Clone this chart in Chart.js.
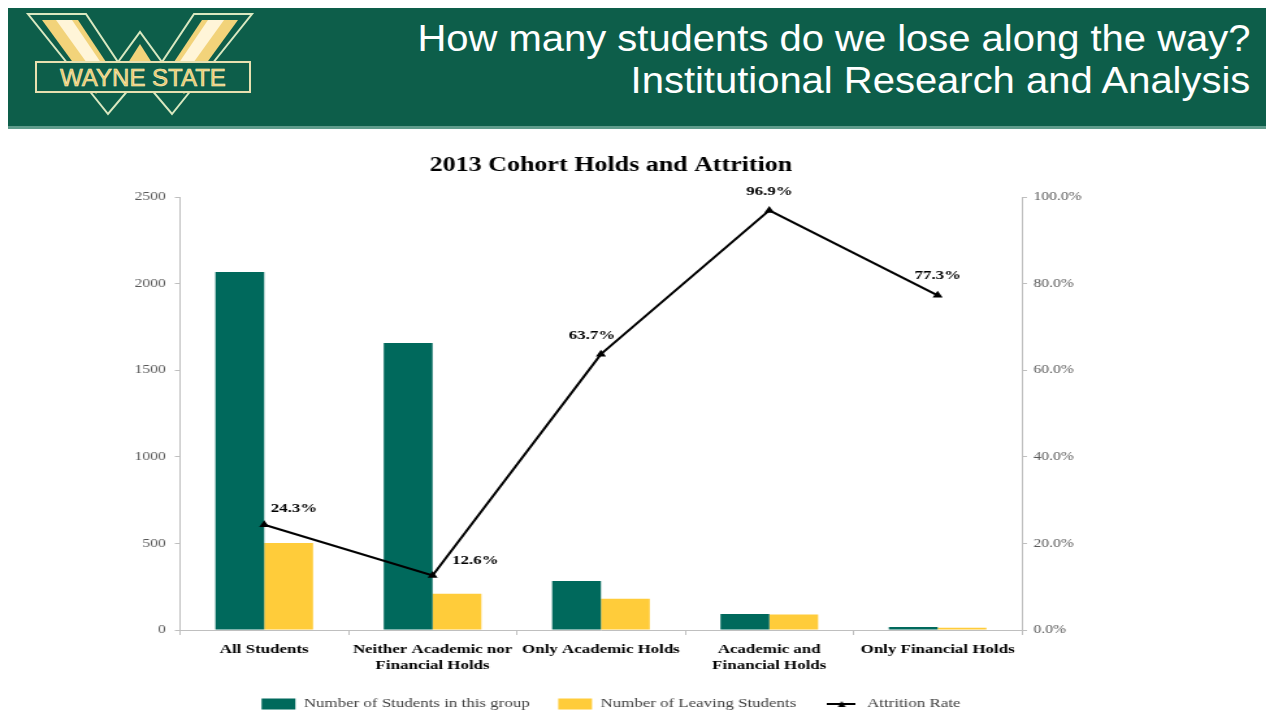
<!DOCTYPE html>
<html>
<head>
<meta charset="utf-8">
<script src="https://cdn.jsdelivr.net/npm/chart.js@4.4.1/dist/chart.umd.min.js"></script>
<style>
  body { margin: 0; width: 1274px; height: 713px; background: #fff; overflow: hidden; position: relative; font-family: "Liberation Sans", Arial, sans-serif; }
  #header { position: absolute; left: 8px; top: 8px; width: 1258px; height: 118px; background: #0d5e4a; border-bottom: 3px solid #5f9c8c; }
  #header .t { position: absolute; right: 16px; color: #fff; font-size: 36px; white-space: nowrap; transform: scaleX(1.11); transform-origin: right center; }
  #logo { position: absolute; left: 14px; top: 2px; }
  /* the source picture is stretched sideways, so the chart is too */
  #wrap { position: absolute; left: 0; top: 140px; width: 980px; height: 573px; transform: scaleX(1.3); transform-origin: left top; }
</style>
</head>
<body>
<div id="header">
  <svg id="logo" width="240" height="108" viewBox="0 0 240 108">
    <polygon points="6,4 64,4 96,52 118,22 140,52 172,4 230,4 150,104 118,66 86,104" fill="#0d5e4a" stroke="#d9e8c0" stroke-width="2"/>
    <polygon points="20,10 56,10 92,64 74,84" fill="#f2d37a"/>
    <polygon points="216,10 180,10 144,64 162,84" fill="#f2d37a"/>
    <polygon points="34,10 50,10 88,66 80,74" fill="#fff5d8"/>
    <polygon points="202,10 186,10 148,66 156,74" fill="#fff5d8"/>
    <polygon points="118,34 132,56 118,74 104,56" fill="#f2d37a"/>
    <rect x="14" y="52" width="214" height="30" fill="#0d5e4a" stroke="#e8e0b0" stroke-width="2"/>
    <text x="121" y="76" text-anchor="middle" font-family="Liberation Sans, Arial" font-size="24" fill="#e9c766" stroke="#fff3c8" stroke-width="0.6">WAYNE STATE</text>
  </svg>
  <div class="t" style="top: 10px;">How many students do we lose along the way?</div>
  <div class="t" style="top: 52px;">Institutional Research and Analysis</div>
</div>
<div id="wrap"><canvas id="cohort-chart"></canvas></div>
<script>
// 2013 cohort
var categories = [
  ['All Students'],
  ['Neither Academic nor', 'Financial Holds'],
  ['Only Academic Holds'],
  ['Academic and', 'Financial Holds'],
  ['Only Financial Holds']
]
var studentsInGroup = [2067, 1657, 283, 92, 17]
var leavingStudents = [502, 209, 180, 89, 13]
var attritionRate = [24.3, 12.6, 63.7, 96.9, 77.3]
var countTicks = [0, 500, 1000, 1500, 2000, 2500]
var rateTicks = [0, 20, 40, 60, 80, 100]

var serif = '"Liberation Serif", "Times New Roman", serif'
var teal = '#00695c'
var gold = '#ffcc3a'

// legend swatch for the line: short line with a marker
var lineSwatch = document.createElement('canvas')
lineSwatch.width = 22
lineSwatch.height = 8
var sctx = lineSwatch.getContext('2d')
sctx.strokeStyle = '#000'
sctx.lineWidth = 2
sctx.beginPath(); sctx.moveTo(0, 4); sctx.lineTo(22, 4); sctx.stroke()
sctx.fillStyle = '#000'
sctx.beginPath(); sctx.moveTo(11, 1); sctx.lineTo(14, 7); sctx.lineTo(8, 7); sctx.closePath(); sctx.fill()

// percent labels next to line points (offsets in canvas px)
var labelShift = [[5, -16], [15, -15], [-7, -19], [0, -19], [0, -20]]
var rateLabels = {
  id: 'rateLabels',
  afterDatasetsDraw: function (chart) {
    var meta = chart.getDatasetMeta(2)
    var ctx = chart.ctx
    ctx.save()
    ctx.font = 'bold 13px ' + serif
    ctx.fillStyle = '#000'
    ctx.textBaseline = 'middle'
    meta.data.forEach(function (pt, i) {
      var txt = attritionRate[i].toFixed(1) + '%'
      ctx.textAlign = i < 2 ? 'left' : 'center'
      ctx.fillText(txt, pt.x + labelShift[i][0], pt.y + labelShift[i][1])
    })
    ctx.restore()
  }
}

var cohortCanvas = document.getElementById('cohort-chart')
var cohortChart = new Chart(cohortCanvas, {
  type: 'bar',
  data: {
    labels: categories,
    datasets: [
      {
        label: 'Number of Students in this group',
        backgroundColor: teal,
        data: studentsInGroup,
        yAxisID: 'y',
        order: 1
      },
      {
        label: 'Number of Leaving Students',
        backgroundColor: gold,
        data: leavingStudents,
        yAxisID: 'y',
        order: 1
      },
      {
        type: 'line',
        label: 'Attrition Rate',
        data: attritionRate,
        yAxisID: 'y2',
        borderColor: '#000',
        backgroundColor: '#000',
        borderWidth: 2,
        pointStyle: 'triangle',
        pointRadius: 2.5,
        tension: 0,
        order: 0
      }
    ]
  },
  plugins: [rateLabels],
  options: {
    responsive: true,
    maintainAspectRatio: false,
    animation: false,
    layout: { padding: { left: 0, right: 40, top: 0, bottom: -7.5 } },
    datasets: {
      bar: { barPercentage: 1, categoryPercentage: 0.58 }
    },
    plugins: {
      title: {
        display: true,
        text: '2013 Cohort Holds and Attrition',
        color: '#000',
        font: { family: serif, size: 20, weight: 'bold' },
        padding: { top: 14, bottom: 19 }
      },
      tooltip: { enabled: false },
      legend: {
        position: 'bottom',
        labels: {
          color: '#404040',
          font: { family: serif, size: 13 },
          usePointStyle: true,
          pointStyleWidth: 26,
          boxHeight: 11,
          padding: 22,
          generateLabels: function (chart) {
            return chart.data.datasets.map(function (ds, i) {
              var isLine = ds.type == 'line'
              return {
                text: ds.label,
                fillStyle: isLine ? '#000' : ds.backgroundColor,
                strokeStyle: isLine ? '#000' : ds.backgroundColor,
                lineWidth: 0,
                pointStyle: isLine ? lineSwatch : 'rect',
                fontColor: '#404040',
                datasetIndex: i
              }
            })
          }
        }
      }
    },
    scales: {
      x: {
        grid: { display: true, drawOnChartArea: false, tickLength: 5, color: '#bfbfbf', offset: true },
        border: { color: '#bfbfbf' },
        ticks: { color: '#000', font: { family: serif, size: 13, weight: 'bold' }, maxRotation: 0, autoSkip: false, padding: 7 },
        afterFit: function (s) { s.height = 45.5 }
      },
      y: {
        position: 'left',
        min: 0,
        max: 2500,
        afterBuildTicks: function (s) { s.ticks = countTicks.map(function (v) { return { value: v } }) },
        grid: { drawOnChartArea: false, tickLength: 4, color: '#bfbfbf' },
        border: { color: '#bfbfbf' },
        ticks: { color: '#595959', font: { family: serif, size: 12 }, padding: 7, callback: function (v) { return String(v) } },
        afterFit: function (s) { s.width = 138.5 }
      },
      y2: {
        position: 'right',
        min: 0,
        max: 100,
        afterBuildTicks: function (s) { s.ticks = rateTicks.map(function (v) { return { value: v } }) },
        grid: { drawOnChartArea: false, tickLength: 4, color: '#bfbfbf' },
        border: { color: '#bfbfbf' },
        ticks: {
          color: '#595959',
          font: { family: serif, size: 12 },
          padding: 5,
          callback: function (v) { return v.toFixed(1) + '%' }
        },
        afterFit: function (s) { s.width = 154 }
      }
    }
  }
})
</script>
</body>
</html>
